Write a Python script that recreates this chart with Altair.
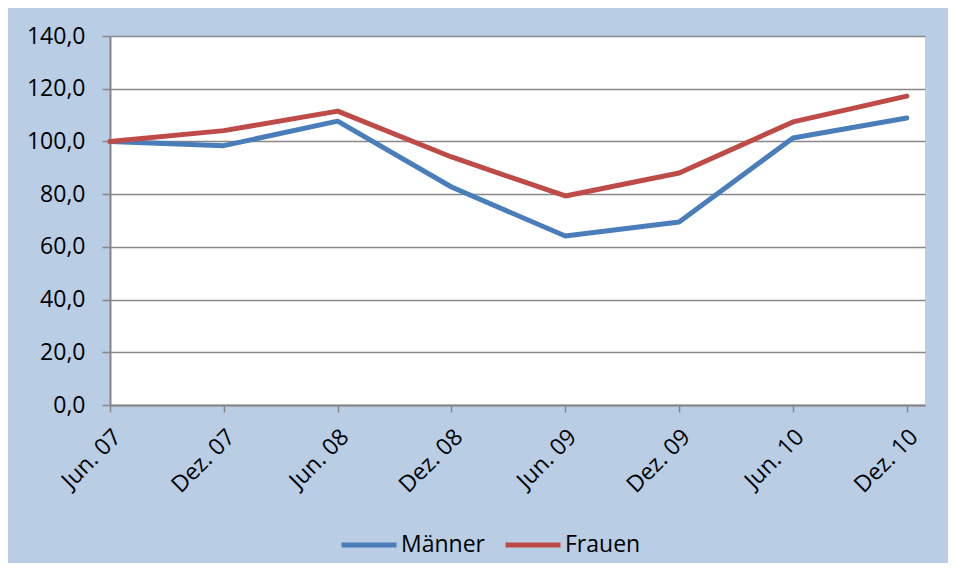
import altair as alt
import pandas as pd

labels = ["Jun. 07", "Dez. 07", "Jun. 08", "Dez. 08", "Jun. 09", "Dez. 09", "Jun. 10", "Dez. 10"]
maenner = [100.0, 98.4, 107.7, 82.7, 64.1, 69.4, 101.3, 108.9]
frauen = [100.0, 104.1, 111.5, 94.1, 79.3, 88.0, 107.4, 117.2]
series = ["Männer", "Frauen"]
colors = ["#4A7EBB", "#BE4B48"]
y_ticks = [0, 20, 40, 60, 80, 100, 120, 140]

rows = []
for name, vals in zip(series, [maenner, frauen]):
    for i, (lab, v) in enumerate(zip(labels, vals)):
        rows.append({"idx": i, "label": lab, "Serie": name, "Wert": v})
df = pd.DataFrame(rows)

label_js = "[" + ",".join("'" + l + "'" for l in labels) + "][datum.value]"
FONT = "Open Sans"

chart = alt.Chart(df).mark_line(strokeWidth=5, strokeCap="round", strokeJoin="round").encode(
    x=alt.X("idx:Q",
            scale=alt.Scale(domain=[0, 7.16], nice=False, zero=False),
            axis=alt.Axis(values=list(range(8)), labelExpr=label_js, labelAngle=-45,
                          labelAlign="right", labelBaseline="middle", grid=False, title=None,
                          labelFont=FONT, labelFontSize=23, labelColor="#000000",
                          labelPadding=21, labelOffset=7, tickSize=7, tickColor="#868686",
                          tickWidth=1.5, domainColor="#868686", domainWidth=2)),
    y=alt.Y("Wert:Q",
            scale=alt.Scale(domain=[0, 140], nice=False),
            axis=alt.Axis(values=y_ticks, labelExpr="replace(format(datum.value, '.1f'), '.', ',')",
                          title=None, labelFont=FONT, labelFontSize=23, labelColor="#000000",
                          labelPadding=17, tickSize=8, tickColor="#868686", tickWidth=1.5,
                          domainColor="#868686", domainWidth=2,
                          grid=True, gridColor="#888888", gridWidth=1.5)),
    color=alt.Color("Serie:N",
                    scale=alt.Scale(domain=series, range=colors),
                    sort=series,
                    legend=alt.Legend(title=None, orient="none", legendX=229, legendY=479,
                                      direction="horizontal", symbolType="stroke",
                                      symbolStrokeWidth=5, symbolSize=3025,
                                      labelFont=FONT, labelFontSize=23, labelColor="#000000",
                                      labelOffset=2, columnPadding=10)),
).properties(
    width=815, height=369,
    padding={"left": 102, "top": 28, "right": 23, "bottom": 158},
    autosize=alt.AutoSizeParams(type="none"),
).configure(background="#B9CDE5").configure_view(fill="white", strokeWidth=0)

chart.save("out.html", embed_options={"renderer": "svg", "actions": False})
